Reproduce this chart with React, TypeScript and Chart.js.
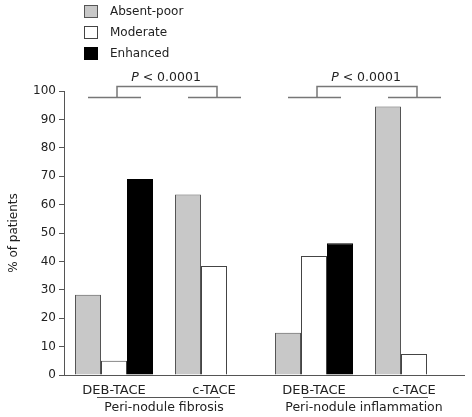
import React, { useEffect, useRef } from "react";
import { Chart, registerables } from "chart.js";

Chart.register(...registerables);

const categories = ["DEB-TACE", "c-TACE", "DEB-TACE", "c-TACE"];
const seriesNames = ["Absent-poor", "Moderate", "Enhanced"];
const absentPoor = [28.3, 63.6, 14.9, 94.5];
const moderate = [5.0, 38.4, 41.9, 7.4];
const enhanced = [69.0, 0, 46.4, 0];
const groupLabels = ["Peri-nodule fibrosis", "Peri-nodule inflammation"];
const pValueLabels = ["< 0.0001", "< 0.0001"];
const yTitle = "% of patients";

const FONT = "DejaVu Sans";
const TEXT = "#222";

const decorPlugin = {
  id: "decor",
  afterDraw(chart: any) {
    const ctx = chart.ctx;
    const xs = chart.scales.x;
    ctx.save();

    // Legend
    const ds = chart.data.datasets;
    ds.forEach((d: any, i: number) => {
      const top = 5 + i * 21;
      ctx.fillStyle = d.backgroundColor;
      ctx.fillRect(84, top, 14, 13);
      ctx.strokeStyle = d.borderColor;
      ctx.lineWidth = 1;
      ctx.strokeRect(84.5, top + 0.5, 13, 12);
      ctx.fillStyle = TEXT;
      ctx.font = `12px ${FONT}`;
      ctx.textAlign = "left";
      ctx.textBaseline = "middle";
      ctx.fillText(d.label, 110, top + 7);
    });

    // Significance brackets and group labels
    for (let g = 0; g < 2; g++) {
      const c1 = xs.getPixelForValue(g * 2);
      const c2 = xs.getPixelForValue(g * 2 + 1);
      const mid = (c1 + c2) / 2;
      ctx.strokeStyle = "#777";
      ctx.lineWidth = 1.5;
      const low = 97.5;
      const high = 86.5;
      ctx.beginPath();
      ctx.moveTo(c1 - 26, low);
      ctx.lineTo(c1 + 27, low);
      ctx.moveTo(c2 - 26, low);
      ctx.lineTo(c2 + 27, low);
      ctx.moveTo(c1 + 3, low);
      ctx.lineTo(c1 + 3, high);
      ctx.lineTo(c2 + 3, high);
      ctx.lineTo(c2 + 3, low);
      ctx.stroke();

      // P text
      ctx.fillStyle = TEXT;
      ctx.textBaseline = "middle";
      ctx.textAlign = "left";
      ctx.font = `italic 12.5px ${FONT}`;
      const wP = ctx.measureText("P").width;
      ctx.font = `12.5px ${FONT}`;
      const rest = " " + pValueLabels[g];
      const wR = ctx.measureText(rest).width;
      const startX = mid + 2 - (wP + wR) / 2;
      ctx.font = `italic 12.5px ${FONT}`;
      ctx.fillText("P", startX, 78);
      ctx.font = `12.5px ${FONT}`;
      ctx.fillText(rest, startX + wP, 78);

      // Group underline and label
      ctx.strokeStyle = "#555";
      ctx.lineWidth = 1;
      ctx.beginPath();
      const l = g === 0 ? c1 - 17 : c1 - 11;
      const r = g === 0 ? c2 + 6 : c2 + 14;
      ctx.moveTo(l, 397.5);
      ctx.lineTo(r, 397.5);
      ctx.stroke();
      ctx.fillStyle = TEXT;
      ctx.textAlign = "center";
      ctx.font = `12.5px ${FONT}`;
      ctx.fillText(groupLabels[g], mid, 408);
    }
    ctx.restore();
  },
};

export default function App() {
  const ref = useRef<HTMLCanvasElement>(null);
  useEffect(() => {
    document.body.style.margin = "0";
    const chart = new Chart(ref.current as HTMLCanvasElement, {
      type: "bar",
      data: {
        labels: categories,
        datasets: [
          {
            label: seriesNames[0],
            data: absentPoor,
            backgroundColor: "#c8c8c8",
            borderColor: "#555",
            borderWidth: 1,
          },
          {
            label: seriesNames[1],
            data: moderate,
            backgroundColor: "#ffffff",
            borderColor: "#444",
            borderWidth: 1,
          },
          {
            label: seriesNames[2],
            data: enhanced,
            backgroundColor: "#000000",
            borderColor: "#000000",
            borderWidth: 1,
          },
        ],
      },
      options: {
        responsive: false,
        animation: false,
        layout: { padding: { top: 91, right: 8, left: 0, bottom: 0 } },
        datasets: { bar: { categoryPercentage: 0.78, barPercentage: 1.0 } },
        plugins: {
          legend: { display: false },
          tooltip: { enabled: false },
        },
        font: { family: FONT, size: 12 },
        scales: {
          x: {
            afterFit: (s: any) => {
              s.height = 42;
            },
            grid: { display: false },
            border: { display: true, color: "#555", width: 1 },
            ticks: { color: TEXT, font: { family: FONT, size: 13 }, padding: 0 },
          },
          y: {
            min: 0,
            max: 100,
            afterFit: (s: any) => {
              s.width = 64;
            },
            border: { display: true, color: "#555", width: 1 },
            grid: {
              drawOnChartArea: false,
              tickLength: 5,
              color: "#555",
            },
            ticks: {
              stepSize: 10,
              color: TEXT,
              padding: 3,
              font: { family: FONT, size: 12 },
            },
            title: {
              display: true,
              text: yTitle,
              color: TEXT,
              font: { family: FONT, size: 12 },
              padding: { top: 7, bottom: 0 },
            },
          },
        },
      },
      plugins: [decorPlugin],
    } as any);
    return () => chart.destroy();
  }, []);
  return (
    <div style={{ width: 472, height: 417 }}>
      <canvas ref={ref} width={472} height={417} />
    </div>
  );
}
